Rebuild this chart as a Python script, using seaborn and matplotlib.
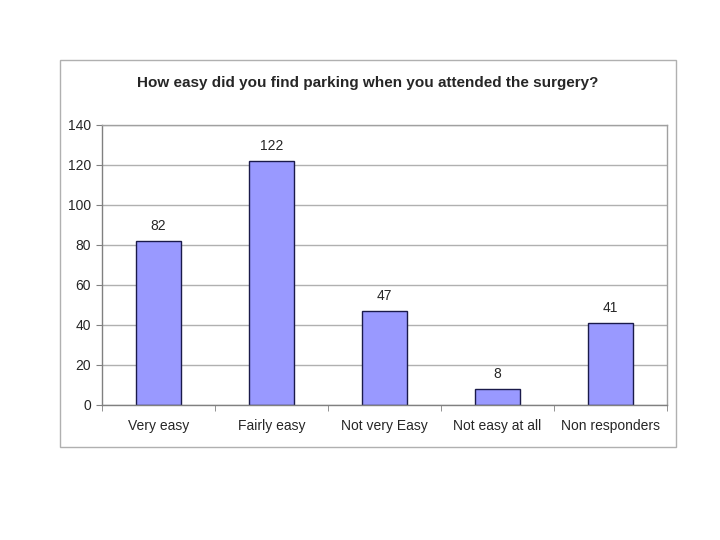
import matplotlib
matplotlib.use("Agg")
import matplotlib.pyplot as plt
import seaborn as sns
import pandas as pd
from matplotlib.patches import Rectangle

# chart data
categories = ["Very easy", "Fairly easy", "Not very Easy", "Not easy at all", "Non responders"]
counts = [82, 122, 47, 8, 41]
y_ticks = [0, 20, 40, 60, 80, 100, 120, 140]

df = pd.DataFrame({"answer": categories, "count": counts})

sns.set_style("white")
plt.rcParams["font.family"] = ["Liberation Sans", "DejaVu Sans"]

fig = plt.figure(figsize=(7.2, 5.4), dpi=100)
fig.patches.append(Rectangle((60 / 720, 1 - 447 / 540), 616 / 720, 387 / 540,
                             transform=fig.transFigure, fill=False,
                             edgecolor="#b0b0b0", linewidth=1))

ax = fig.add_axes([102 / 720, 1 - 405 / 540, 565 / 720, 280 / 540])
sns.barplot(data=df, x="answer", y="count", color="#9999ff", width=0.4,
            edgecolor="#1a1a4a", linewidth=1, saturation=1, ax=ax)

ax.set_ylim(0, 140)
ax.set_yticks(y_ticks)
ax.yaxis.grid(True, color="#b0b0b0", linewidth=1)
ax.set_axisbelow(True)
ax.set_xlabel("")
ax.set_ylabel("")
for s in ax.spines.values():
    s.set_color("#a0a0a0")
    s.set_linewidth(1)
ax.spines["left"].set_color("#808080")
ax.spines["bottom"].set_color("#808080")

ax.tick_params(axis="y", labelsize=10, length=4, color="#808080", left=True, pad=4)
ax.tick_params(axis="x", labelsize=10, length=0, pad=10)
ax.set_xticks(range(len(categories)))
ax.set_xticklabels(categories)
ax.set_xticks([i + 0.5 for i in range(-1, len(categories))], minor=True)
ax.tick_params(axis="x", which="minor", length=4, color="#808080", bottom=True)

for i, v in enumerate(counts):
    ax.text(i, v + 4, str(v), ha="center", va="bottom", fontsize=10)

fig.text(368 / 720, 1 - 83 / 540, "How easy did you find parking when you attended the surgery?",
         ha="center", va="center", fontsize=11, fontweight="bold")

fig.savefig("out.png", dpi=100)
